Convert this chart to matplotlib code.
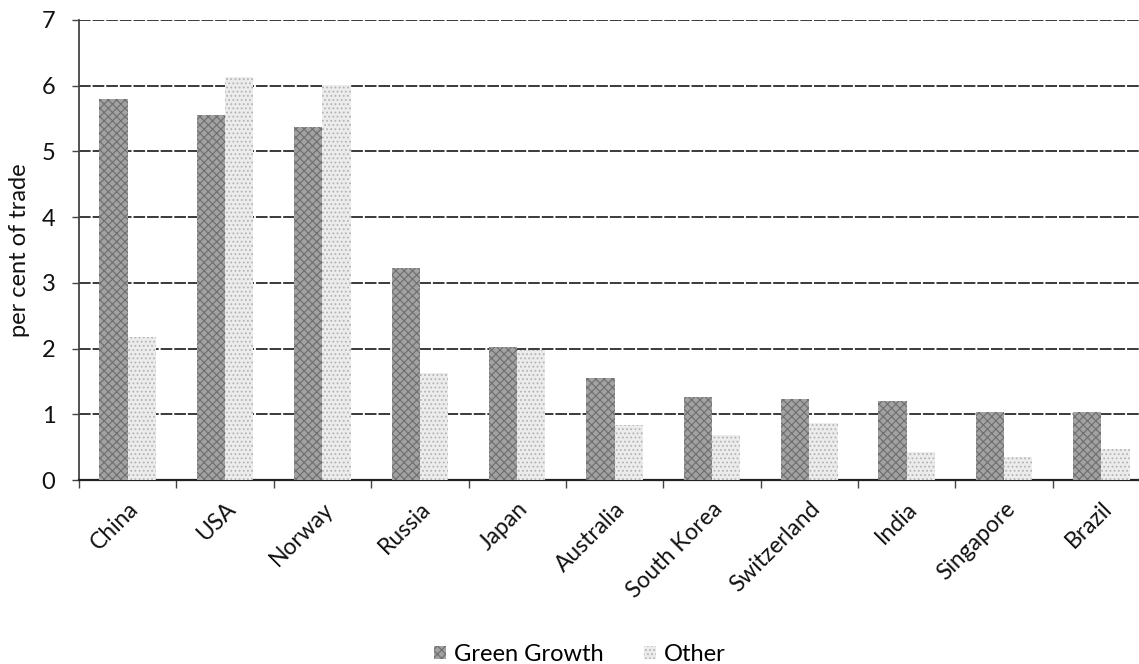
import matplotlib
matplotlib.use("Agg")
import matplotlib.pyplot as plt
import numpy as np

# Share of trade by partner country
countries = ["China", "USA", "Norway", "Russia", "Japan", "Australia",
             "South Korea", "Switzerland", "India", "Singapore", "Brazil"]
green_growth = [5.8, 5.55, 5.37, 3.22, 2.03, 1.55, 1.26, 1.24, 1.20, 1.03, 1.03]
other = [2.17, 6.13, 6.01, 1.63, 1.98, 0.84, 0.68, 0.87, 0.42, 0.35, 0.48]
y_ticks = [0, 1, 2, 3, 4, 5, 6, 7]

plt.rcParams["font.family"] = ["Lato", "DejaVu Sans"]
plt.rcParams["hatch.linewidth"] = 0.8

fig = plt.figure(figsize=(11.39, 6.64), dpi=100)
# the plot area runs a little past the right edge of the canvas
ax = fig.add_axes([0.0694, 0.277, 0.9403, 0.693])

x = np.arange(len(countries))
w = 0.29
plt.rcParams["hatch.color"] = "#6e6e6e"
b1 = ax.bar(x - w / 2, green_growth, width=w, color="#a2a2a2",
            hatch="xxxx", edgecolor="#6e6e6e", linewidth=0,
            label="Green Growth", zorder=3)
b2 = ax.bar(x + w / 2, other, width=w, color="#ececec",
            hatch="....", edgecolor="#b4b4b4", linewidth=0,
            label="Other", zorder=3)

ax.set_xlim(-0.5, len(countries) - 0.5)
ax.set_ylim(0, 7)
ax.set_yticks(y_ticks)
ax.set_yticklabels([str(v) for v in y_ticks], fontsize=17, color="#111111")
ax.yaxis.grid(True, color="#3a3a3a", linewidth=1.4, linestyle=(0, (6, 1)), zorder=1)
ax.set_axisbelow(True)

ax.set_xticks(x)
ax.set_xticklabels(countries, rotation=45, ha="right", rotation_mode="anchor",
                   fontsize=16.5, color="#111111")
ax.tick_params(axis="x", length=0, pad=13)
ax.set_xticks(np.arange(len(countries) + 1) - 0.5, minor=True)
ax.tick_params(axis="x", which="minor", length=6, width=1, color="#444444")
ax.tick_params(axis="y", length=5, width=1, color="#444444", pad=12)

for side in ("top", "right"):
    ax.spines[side].set_visible(False)
ax.spines["left"].set_color("#444444")
ax.spines["left"].set_linewidth(1.3)
ax.spines["bottom"].set_color("#222222")
ax.spines["bottom"].set_linewidth(1.6)

ax.set_ylabel("per cent of trade", fontsize=17, color="#111111", labelpad=8)

fig.legend(handles=[b1, b2], loc="lower center", bbox_to_anchor=(0.509, -0.033),
           ncol=2, frameon=False, fontsize=17, handlelength=0.5,
           handleheight=0.5, handletextpad=0.35, columnspacing=1.7)

fig.savefig("out.png", dpi=100, facecolor="white")
